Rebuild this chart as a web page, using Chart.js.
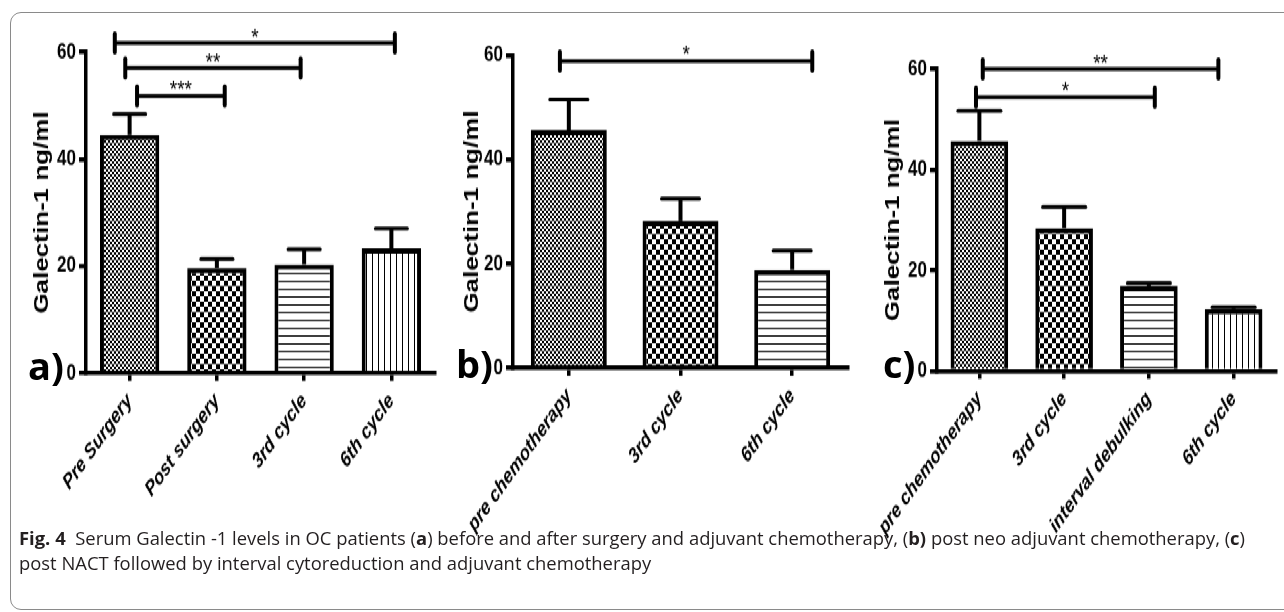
<!DOCTYPE html>
<html><head><meta charset="utf-8">
<script src="https://cdn.jsdelivr.net/npm/chart.js@4.4.1/dist/chart.umd.min.js"></script>
<style>
html,body{margin:0;padding:0;background:#fff;}
body{width:1284px;height:612px;position:relative;overflow:hidden;}
#frame{position:absolute;left:10px;top:12px;width:1320px;height:598px;border:1px solid #8a8a8a;border-radius:11px;box-sizing:border-box;}
#stretch{position:absolute;left:0;top:0;width:1284px;height:471px;transform:scaleY(1.3);transform-origin:0 0;}
#stretch canvas{position:absolute;left:0;top:0;}
.plab{position:absolute;font-family:"Open Sans",sans-serif;font-weight:bold;font-size:38px;line-height:38px;color:#000;}
#cap{position:absolute;left:19px;top:526px;font-family:"Open Sans",sans-serif;font-size:18px;line-height:25px;color:#231f20;white-space:nowrap;transform-origin:0 0;}
#cap span{display:inline-block;}
</style></head><body>
<div id="frame"></div>
<div id="stretch">
<canvas id="ca" width="1284" height="471"></canvas>
<canvas id="cb" width="1284" height="471"></canvas>
<canvas id="cc" width="1284" height="471"></canvas>
</div>
<div class="plab" style="left:28px;top:346px;">a)</div>
<div class="plab" style="left:456px;top:344px;">b)</div>
<div class="plab" style="left:883px;top:344px;">c)</div>
<div id="cap"><span id="l1"><b>Fig. 4</b>&nbsp; Serum Galectin -1 levels in OC patients (<b>a</b>) before and after surgery and adjuvant chemotherapy, (<b>b)</b> post neo adjuvant chemotherapy, (<b>c</b>)</span><br><span id="l2">post NACT followed by interval cytoreduction and adjuvant chemotherapy</span></div>
<script>
// ---- data ----
const catsA = ['Pre Surgery', 'Post surgery', '3rd cycle', '6th cycle'];
const meanA = [44.5, 19.6, 20.3, 23.3];
const semA  = [3.9, 1.7, 2.8, 3.7];

const catsB = ['pre chemotherapy', '3rd cycle', '6th cycle'];
const meanB = [45.6, 28.2, 18.8];
const semB  = [5.9, 4.3, 3.7];

const catsC = ['pre chemotherapy', '3rd cycle', 'interval debulking', '6th cycle'];
const meanC = [45.7, 28.4, 16.9, 12.3];
const semC  = [6.0, 4.2, 0.6, 0.4];

const yTicks = [0, 20, 40, 60];
const yTitle = 'Galectin-1 ng/ml';

// significance brackets: from/to in category index units, y in ng/ml
const sigA = [
  {from: -0.17, to: 3.04, y: 61.7, label: '*'},
  {from: -0.05, to: 1.96, y: 57.0, label: '**'},
  {from: 0.085, to: 1.09, y: 51.8, label: '***'}
];
const sigB = [
  {from: -0.08, to: 2.18, y: 58.85, label: '*'}
];
const sigC = [
  {from: 0.04, to: 2.82, y: 60.0, label: '**'},
  {from: -0.04, to: 2.07, y: 54.4, label: '*'}
];

// ---- styling / layout ----
const S = 1.3;       // vertical stretch of the figure
const CH = 471;      // canvas height (unstretched)
const XH = 150;      // x-axis box height
const FAM = '"Liberation Sans", Arial, sans-serif';

function makePattern(type){
  const c = document.createElement('canvas');
  const g = c.getContext('2d');
  if (type === 'fine') {
    c.width = 4; c.height = 4;
    g.fillStyle = '#fff'; g.fillRect(0,0,4,4);
    g.fillStyle = '#000'; g.fillRect(0,0,2,2); g.fillRect(2,2,2,2);
  } else if (type === 'check') {
    c.width = 8; c.height = 8;
    g.fillStyle = '#fff'; g.fillRect(0,0,8,8);
    g.fillStyle = '#000'; g.fillRect(0,0,4,4); g.fillRect(4,4,4,4);
  } else if (type === 'hline') {
    c.width = 6; c.height = 6;
    g.fillStyle = '#fff'; g.fillRect(0,0,6,6);
    g.fillStyle = '#000'; g.fillRect(0,0,6,1);
  } else {
    c.width = 6; c.height = 6;
    g.fillStyle = '#fff'; g.fillRect(0,0,6,6);
    g.fillStyle = '#000'; g.fillRect(0,0,1,6);
  }
  return g.createPattern(c, 'repeat');
}
const patterns = [makePattern('fine'), makePattern('check'), makePattern('hline'), makePattern('vline')];

const overlay = {
  id: 'overlay',
  afterDatasetsDraw(chart, args, opts){
    const ctx = chart.ctx, xs = chart.scales.x, ys = chart.scales.y;
    const meta = chart.getDatasetMeta(0);
    const vals = chart.data.datasets[0].data;
    ctx.save();
    ctx.strokeStyle = '#000'; ctx.fillStyle = '#000';
    meta.data.forEach((bar, i) => {
      const y0 = ys.getPixelForValue(vals[i]);
      const y1 = ys.getPixelForValue(vals[i] + opts.errors[i]);
      ctx.lineWidth = 4; ctx.lineCap = 'butt';
      ctx.beginPath(); ctx.moveTo(bar.x, y0); ctx.lineTo(bar.x, y1); ctx.stroke();
      ctx.lineWidth = 3; ctx.lineCap = 'round';
      ctx.beginPath(); ctx.moveTo(bar.x - opts.cap/2, y1); ctx.lineTo(bar.x + opts.cap/2, y1); ctx.stroke();
    });
    opts.sig.forEach(s => {
      const xa = xs.getPixelForValue(s.from), xb = xs.getPixelForValue(s.to);
      const yy = ys.getPixelForValue(s.y);
      ctx.lineWidth = 3; ctx.lineCap = 'butt';
      ctx.beginPath(); ctx.moveTo(xa, yy); ctx.lineTo(xb, yy); ctx.stroke();
      ctx.lineWidth = 4; ctx.lineCap = 'round';
      ctx.beginPath(); ctx.moveTo(xa, yy - 7); ctx.lineTo(xa, yy + 7); ctx.stroke();
      ctx.beginPath(); ctx.moveTo(xb, yy - 7); ctx.lineTo(xb, yy + 7); ctx.stroke();
      ctx.font = '19px ' + FAM; ctx.textAlign = 'center'; ctx.textBaseline = 'alphabetic';
      ctx.fillText(s.label, (xa + xb)/2, yy + 1.5);
    });
    ctx.restore();
  }
};

function build(id, cats, means, errs, sig, titleCenter, left, right, topPage, botPage, cap){
  const top = topPage / S, bot = botPage / S;
  const titleLeft = titleCenter - 12;
  return new Chart(document.getElementById(id), {
    type: 'bar',
    data: {
      labels: cats,
      datasets: [{
        data: means,
        backgroundColor: cats.map((_, i) => patterns[i]),
        borderColor: '#000', borderWidth: 4, borderSkipped: 'start',
        barPercentage: 0.68, categoryPercentage: 1
      }]
    },
    options: {
      responsive: false, animation: false, events: [],
      layout: {padding: {left: titleLeft, right: 1284 - right, top: top, bottom: CH - bot - XH}},
      plugins: {legend: {display: false}, tooltip: {enabled: false},
                overlay: {errors: errs, sig: sig, cap: cap}},
      scales: {
        x: {
          offset: true,
          grid: {offset: false, drawOnChartArea: false, drawTicks: true, tickLength: 6, lineWidth: 3.5, color: '#000'},
          border: {display: true, color: '#000', width: 3.5},
          ticks: {autoSkip: false, minRotation: 47, maxRotation: 47, padding: 6, color: '#000',
                  font: {family: FAM, size: 16.5, weight: 'bold', style: 'italic'}},
          afterFit(s){ s.height = XH; s.paddingLeft = 0; s.paddingRight = 0; }
        },
        y: {
          min: 0, max: 60,
          afterBuildTicks(s){ s.ticks = yTicks.map(v => ({value: v})); },
          grid: {drawOnChartArea: false, drawTicks: true, tickLength: 7, lineWidth: 3.5, color: '#000'},
          border: {display: true, color: '#000', width: 3.5},
          ticks: {padding: 3, color: '#000', font: {family: FAM, size: 17, weight: 'bold'}},
          title: {display: true, text: yTitle, color: '#000', padding: 0,
                  font: {family: FAM, size: 20, weight: 'bold', lineHeight: 1.2}},
          afterFit(s){ s.width = left - titleLeft; s.paddingTop = 0; s.paddingBottom = 0; }
        }
      }
    },
    plugins: [overlay]
  });
}

build('ca', catsA, meanA, semA, sigA, 42, 86, 435, 52, 373, 32);
build('cb', catsB, meanB, semB, sigB, 472.5, 513, 848, 55, 368, 38);
build('cc', catsC, meanC, semC, sigC, 893.5, 937, 1276, 69, 371, 43);

function fitCaption(){
  const cap = document.getElementById('cap');
  cap.style.transform = 'none';
  const w = document.getElementById('l1').getBoundingClientRect().width;
  cap.style.transform = 'scaleX(' + (1226 / w) + ')';
}
fitCaption();
if (document.fonts && document.fonts.ready) document.fonts.ready.then(fitCaption);
</script>
</body></html>
